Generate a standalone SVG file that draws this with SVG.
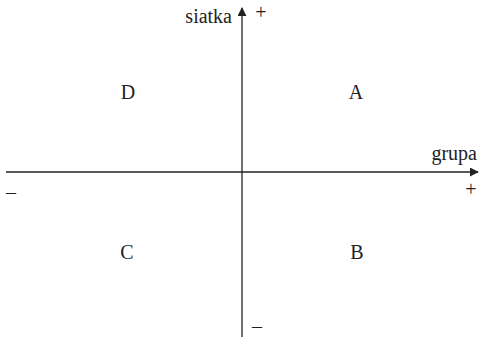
<svg xmlns="http://www.w3.org/2000/svg" width="479" height="337" viewBox="0 0 479 337">
<style>
text{font-family:"Liberation Serif","Times New Roman",serif;font-size:20px;fill:#222}
.ax{stroke:#222;stroke-width:1.3;fill:none}
</style>
<defs>
<marker id="ar" viewBox="0 0 10 10" refX="9" refY="5" markerWidth="9" markerHeight="9" markerUnits="userSpaceOnUse" orient="auto">
<path d="M0,0 L10,5 L0,10 Z" fill="#222"/>
</marker>
</defs>
<g id="connectors">
<line class="ax" x1="6" y1="172" x2="478" y2="172" marker-end="url(#ar)"/>
<line class="ax" x1="242" y1="337" x2="242" y2="8" marker-end="url(#ar)"/>
</g>
<g id="labels">
<text x="232" y="23" text-anchor="end">siatka</text>
<text x="261" y="19" text-anchor="middle">+</text>
<text x="477" y="160" text-anchor="end">grupa</text>
<text x="471" y="196" text-anchor="middle">+</text>
<text x="11" y="199" text-anchor="middle">–</text>
<text x="257" y="333" text-anchor="middle">–</text>
</g>
<g id="D"><text x="128" y="99" text-anchor="middle">D</text></g>
<g id="A"><text x="356" y="99" text-anchor="middle">A</text></g>
<g id="C"><text x="127" y="259" text-anchor="middle">C</text></g>
<g id="B"><text x="357" y="259" text-anchor="middle">B</text></g>
</svg>
